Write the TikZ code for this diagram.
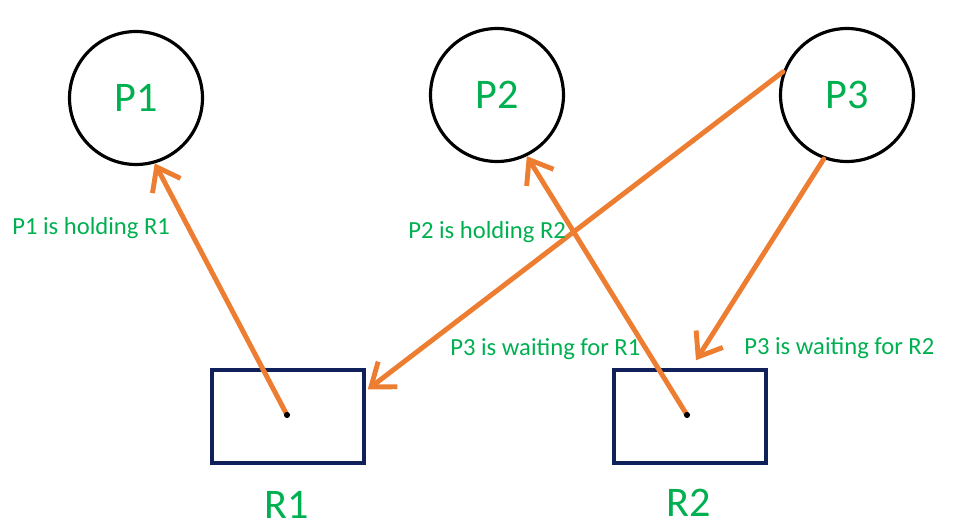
\documentclass[tikz,border=0pt]{standalone}
\usepackage{fontspec}
\setmainfont{Carlito}
\usetikzlibrary{arrows.meta,calc}
\definecolor{pgreen}{RGB}{0,176,80}
\definecolor{porange}{RGB}{237,125,49}
\definecolor{pnavy}{RGB}{16,32,90}
\begin{document}
\begin{tikzpicture}[x=0.02cm,y=-0.02cm,
  proc/.style={circle,draw=black,line width=1.8pt,minimum size=2.66cm,inner sep=0pt,
    text=pgreen,font=\fontsize{24}{28}\selectfont},
  res/.style={rectangle,draw=pnavy,line width=2pt,minimum width=3.04cm,minimum height=1.86cm,inner sep=0pt},
  rlabel/.style={text=pgreen,font=\fontsize{24}{28}\selectfont,inner sep=0pt},
  note/.style={text=pgreen,font=\fontsize{14}{17}\selectfont,inner sep=0pt,anchor=west},
  edge/.style={draw=porange,line width=2.8pt,line cap=round,
    -{Straight Barb[length=12pt,width=18pt,line width=2.8pt]}},
  dotm/.style={circle,fill=black,inner sep=0pt,minimum size=3.5pt}]
\useasboundingbox (0,0) rectangle (961,527);
\node[proc] (p1) at (136,98) {P1};
\node[proc] (p2) at (497,95) {P2};
\node[proc] (p3) at (847,95) {P3};
\node[res] (r1) at (288,416.5) {};
\node[res] (r2) at (690,416.5) {};
\node[rlabel] (r1l) at (287,505) {R1};
\node[rlabel] (r2l) at (689,503) {R2};
\coordinate (d1) at (287,415);
\coordinate (d2) at (687,415);
\coordinate (r1in) at ($(r1.north east)!0.22!(r1.south east)+(2,0)$);
\coordinate (r2in) at ($(r2.north)+(6,-8)$);
\draw[edge] (d1) -- (p1.-74);
\draw[edge] (d2) -- (p2.-64);
\draw[edge] (p3.160) -- (r1in);
\draw[edge] (p3.-110) -- (r2in);
\node[dotm] (dt1) at (d1) {};
\node[dotm] (dt2) at (d2) {};
\node[note] (n1) at (12,228) {P1 is holding R1};
\node[note] (n2) at (408,232) {P2 is holding R2};
\node[note] (n3) at (450,349) {P3 is waiting for R1};
\node[note] (n4) at (744,348) {P3 is waiting for R2};
\end{tikzpicture}
\end{document}
